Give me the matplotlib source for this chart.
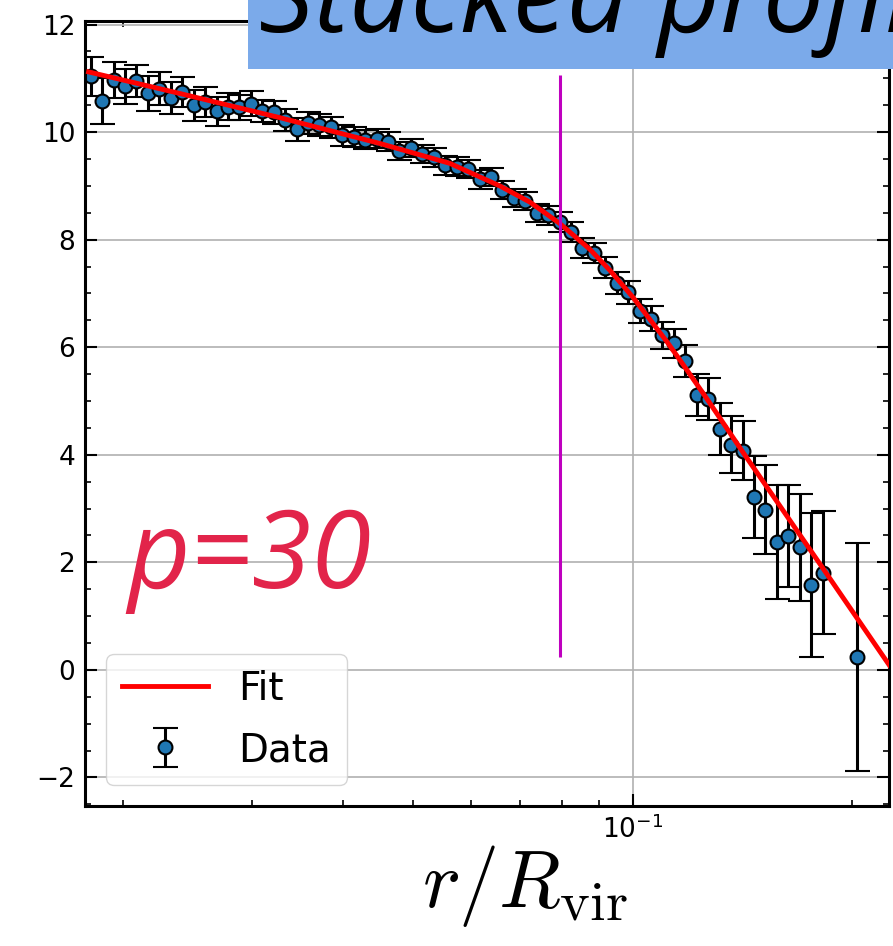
import matplotlib
matplotlib.use('Agg')
import matplotlib.pyplot as plt
from matplotlib.ticker import MultipleLocator, NullFormatter

# stacked profile data (r / R_vir, value, 1-sigma error)
r_data = [0.01803, 0.01869, 0.01938, 0.02010, 0.02084, 0.02160, 0.02240, 0.02322,
          0.02408, 0.02496, 0.02588, 0.02684, 0.02782, 0.02885, 0.02991, 0.03101,
          0.03215, 0.03334, 0.03456, 0.03584, 0.03715, 0.03852, 0.03994, 0.04141,
          0.04294, 0.04452, 0.04616, 0.04785, 0.04962, 0.05144, 0.05334, 0.05530,
          0.05734, 0.05945, 0.06164, 0.06390, 0.06626, 0.06870, 0.07123, 0.07385,
          0.07657, 0.07939, 0.08231, 0.08534, 0.08848, 0.09174, 0.09511, 0.09862,
          0.10225, 0.10601, 0.10991, 0.11396, 0.11815, 0.12250, 0.12701, 0.13169,
          0.13654, 0.14156, 0.14677, 0.15218, 0.15778, 0.16359, 0.16961, 0.17586,
          0.18233, 0.20321]
y_data = [11.04, 10.58, 10.97, 10.85, 10.95, 10.72, 10.81, 10.64,
          10.75, 10.50, 10.56, 10.39, 10.47, 10.46, 10.53, 10.39,
          10.37, 10.23, 10.05, 10.17, 10.13, 10.09, 9.94, 9.91,
          9.86, 9.88, 9.82, 9.65, 9.71, 9.59, 9.53, 9.38,
          9.36, 9.31, 9.12, 9.17, 8.92, 8.78, 8.72, 8.50,
          8.45, 8.33, 8.14, 7.85, 7.75, 7.48, 7.19, 7.02,
          6.68, 6.53, 6.22, 6.07, 5.75, 5.11, 5.04, 4.48,
          4.19, 4.08, 3.22, 2.98, 2.38, 2.49, 2.28, 1.58,
          1.81, 0.24]
y_err = [0.36, 0.43, 0.34, 0.33, 0.30, 0.32, 0.30, 0.30,
         0.28, 0.29, 0.28, 0.27, 0.25, 0.23, 0.23, 0.21,
         0.21, 0.20, 0.22, 0.20, 0.20, 0.19, 0.19, 0.18,
         0.18, 0.18, 0.18, 0.17, 0.17, 0.17, 0.17, 0.17,
         0.17, 0.17, 0.17, 0.17, 0.17, 0.17, 0.17, 0.17,
         0.17, 0.18, 0.18, 0.19, 0.19, 0.20, 0.20, 0.21,
         0.22, 0.23, 0.25, 0.27, 0.30, 0.39, 0.39, 0.48,
         0.53, 0.54, 0.76, 0.83, 1.06, 0.95, 1.00, 1.34,
         1.14, 2.12]

# best-fit model curve
r_fit = [0.01791, 0.02388, 0.03277, 0.04496, 0.05610, 0.06571, 0.07226, 0.07946,
         0.08738, 0.09308, 0.1001, 0.1115, 0.1173, 0.1265, 0.1417, 0.1808, 0.2256]
y_fit = [11.12, 10.72, 10.27, 9.79, 9.42, 9.00, 8.70, 8.30,
         7.82, 7.43, 6.93, 6.10, 5.68, 5.04, 4.05, 1.97, 0.07]

r_mark = 0.0795
mark_lo, mark_hi = 0.24, 11.07

fig = plt.figure(figsize=(8.93, 9.46), dpi=100)
ax = fig.add_axes([0.0952, 0.148, 0.9003, 0.830])

ax.plot(r_fit, y_fit, color='red', lw=3.5, label='Fit', zorder=3)
ax.errorbar(r_data, y_data, yerr=y_err, fmt='o', color='black', ecolor='black',
            mfc='#1f77b4', mec='black', mew=1.5, ms=10, elinewidth=2.2,
            capsize=9, capthick=2.2, label='Data', zorder=2)
ax.vlines(r_mark, mark_lo, mark_hi, color='#bf00bf', lw=2.2, zorder=4)

ax.set_xscale('log')
ax.set_xlim(0.01771, 0.2249)
ax.set_ylim(-2.53, 12.07)
ax.yaxis.set_major_locator(MultipleLocator(2))
ax.yaxis.set_minor_locator(MultipleLocator(0.5))
ax.xaxis.set_minor_formatter(NullFormatter())

ax.grid(True, which='major', color='#b0b0b0', lw=1.2)
ax.tick_params(which='both', direction='in', top=True, right=True, labelsize=19)
ax.tick_params(which='major', length=8.5, width=1.5, pad=7)
ax.tick_params(which='minor', length=4.3, width=1.2)
for s in ax.spines.values():
    s.set_linewidth(2.2)

ax.text(0.053, 0.278, 'p=30', transform=ax.transAxes, fontsize=78,
        family='Open Sans', style='italic', color='#e2244a', va='baseline')

leg = ax.legend(loc='lower left', fontsize=28, handlelength=2.2,
                handletextpad=0.8, borderaxespad=0.55, labelspacing=0.6)

fig.text(525 / 893, 1 - 907 / 946, r'$r/R_{\rm vir}$', math_fontfamily='cm',
         fontsize=58, ha='center', va='baseline')

fig.text(259 / 893, 1 - 32 / 946, 'Stacked profile', fontsize=78,
         family='Open Sans', style='italic', va='baseline',
         bbox=dict(boxstyle='square,pad=0.1', fc='#7baaea', ec='none'))

fig.savefig('out.png', dpi=100)
